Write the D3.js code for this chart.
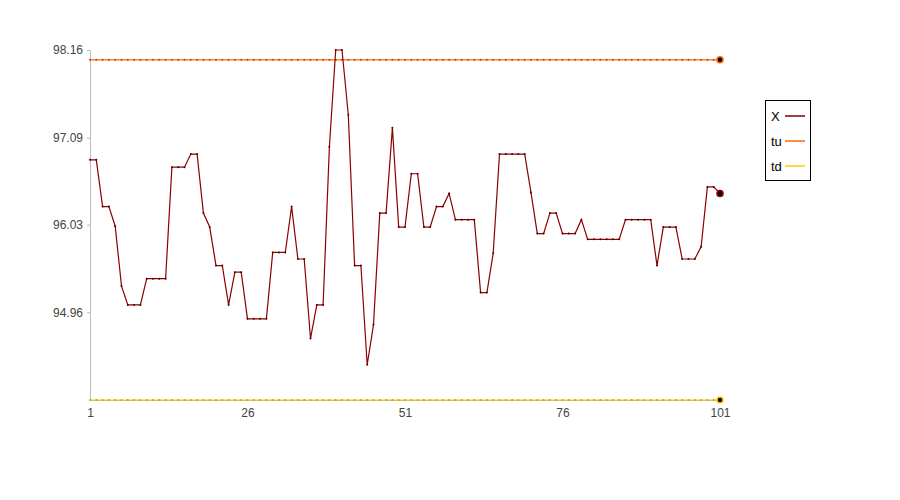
<!DOCTYPE html>
<html>
<head>
<meta charset="utf-8">
<script src="https://cdn.jsdelivr.net/npm/d3@7"></script>
<style>
  body { margin: 0; background: #fff; }
  svg { font-family: "Liberation Sans", Arial, sans-serif; }
  .axis text { fill: #444; font-size: 12px; }
</style>
</head>
<body>
<div id="graphic"></div>
<script>
// DATA
var xValues = [96.82, 96.82, 96.25, 96.25, 96.01, 95.28, 95.05, 95.05, 95.05, 95.37,
  95.37, 95.37, 95.37, 96.73, 96.73, 96.73, 96.89, 96.89, 96.17, 96.00,
  95.53, 95.53, 95.05, 95.45, 95.45, 94.88, 94.88, 94.88, 94.88, 95.69,
  95.69, 95.69, 96.25, 95.61, 95.61, 94.64, 95.05, 95.05, 96.98, 98.16,
  98.16, 97.37, 95.53, 95.53, 94.32, 94.81, 96.17, 96.17, 97.21, 96.00,
  96.00, 96.65, 96.65, 96.00, 96.00, 96.25, 96.25, 96.41, 96.09, 96.09,
  96.09, 96.09, 95.20, 95.20, 95.68, 96.89, 96.89, 96.89, 96.89, 96.89,
  96.42, 95.92, 95.92, 96.17, 96.17, 95.92, 95.92, 95.92, 96.09, 95.85,
  95.85, 95.85, 95.85, 95.85, 95.85, 96.09, 96.09, 96.09, 96.09, 96.09,
  95.53, 96.00, 96.00, 96.00, 95.61, 95.61, 95.61, 95.76, 96.49, 96.49,
  96.41];
var tuValue = 98.04;
var tdValue = 93.89;
var xTickLabels = ["1", "26", "51", "76", "101"];
var yTickLabels = ["94.96", "96.03", "97.09", "98.16"];
var seriesNames = ["X", "tu", "td"];
var seriesColors = ["#7f0000", "#ff6600", "#ffcc00"];

var margin = {top: 50, right: 180, bottom: 100, left: 90};
var width = 900 - margin.left - margin.right,
    height = 500 - margin.top - margin.bottom;

var svg = d3.select("#graphic").append("svg")
    .attr("width", 900)
    .attr("height", 500)
    .append("g")
    .attr("transform", "translate(" + margin.left + "," + margin.top + ")");

var idx = xValues.map(function (d, i) { return i + 1; });

var xScale = d3.scaleLinear()
    .domain([1, xValues.length])
    .range([0, width]);

var yScale = d3.scaleLinear()
    .domain([tdValue, d3.max(xValues)])
    .range([height, 0]);

// AXES
var yAxis = d3.axisLeft(yScale)
    .tickValues(yTickLabels.map(Number))
    .tickFormat(d3.format(".2f"))
    .tickSize(3)
    .tickPadding(4)
    .tickSizeOuter(0);

var gy = svg.append("g").attr("class", "axis").call(yAxis);
gy.select(".domain").attr("stroke", "#bbb");
gy.selectAll(".tick line").attr("stroke", "#bbb");

var xAxis = d3.axisBottom(xScale)
    .tickValues(xTickLabels.map(Number))
    .tickFormat(d3.format("d"))
    .tickSize(0)
    .tickPadding(8);

var gx = svg.append("g").attr("class", "axis")
    .attr("transform", "translate(0," + height + ")")
    .call(xAxis);
gx.select(".domain").attr("stroke", "#bbb");

// SERIES
var line = d3.line()
    .x(function (d) { return xScale(d[0]); })
    .y(function (d) { return yScale(d[1]); });

function drawSeries(values, color, dotColor) {
    var pts = idx.map(function (i, k) { return [i, values[k]]; });
    svg.append("path")
        .datum(pts)
        .attr("fill", "none")
        .attr("stroke", color)
        .attr("stroke-width", 1.2)
        .attr("d", line);
    svg.append("g").selectAll("circle")
        .data(pts.slice(0, -1))
        .enter().append("circle")
        .attr("cx", function (d) { return xScale(d[0]); })
        .attr("cy", function (d) { return yScale(d[1]); })
        .attr("r", 1)
        .attr("fill", dotColor);
    var last = pts[pts.length - 1];
    svg.append("circle")
        .attr("cx", xScale(last[0]))
        .attr("cy", yScale(last[1]))
        .attr("r", 3)
        .attr("fill", "#000")
        .attr("stroke", color)
        .attr("stroke-width", 1.5);
}

drawSeries(idx.map(function () { return tuValue; }), seriesColors[1], "#c04a00");
drawSeries(idx.map(function () { return tdValue; }), seriesColors[2], "#d0a000");
drawSeries(xValues, "#8b0000", "#5a0000");

// LEGEND
var legend = d3.select("svg").append("g")
    .attr("transform", "translate(765,100)");

legend.append("rect")
    .attr("x", 0.5).attr("y", 0.5)
    .attr("width", 45).attr("height", 80)
    .attr("fill", "#fff")
    .attr("stroke", "#000");

seriesNames.forEach(function (name, i) {
    var yy = 16 + i * 25;
    legend.append("text")
        .attr("x", 6)
        .attr("y", yy)
        .attr("dy", "0.35em")
        .attr("font-size", 13)
        .attr("fill", "#000")
        .text(name);
    legend.append("line")
        .attr("x1", 20).attr("x2", 40)
        .attr("y1", yy).attr("y2", yy)
        .attr("stroke", seriesColors[i])
        .attr("stroke-width", 1.5);
});
</script>
</body>
</html>
